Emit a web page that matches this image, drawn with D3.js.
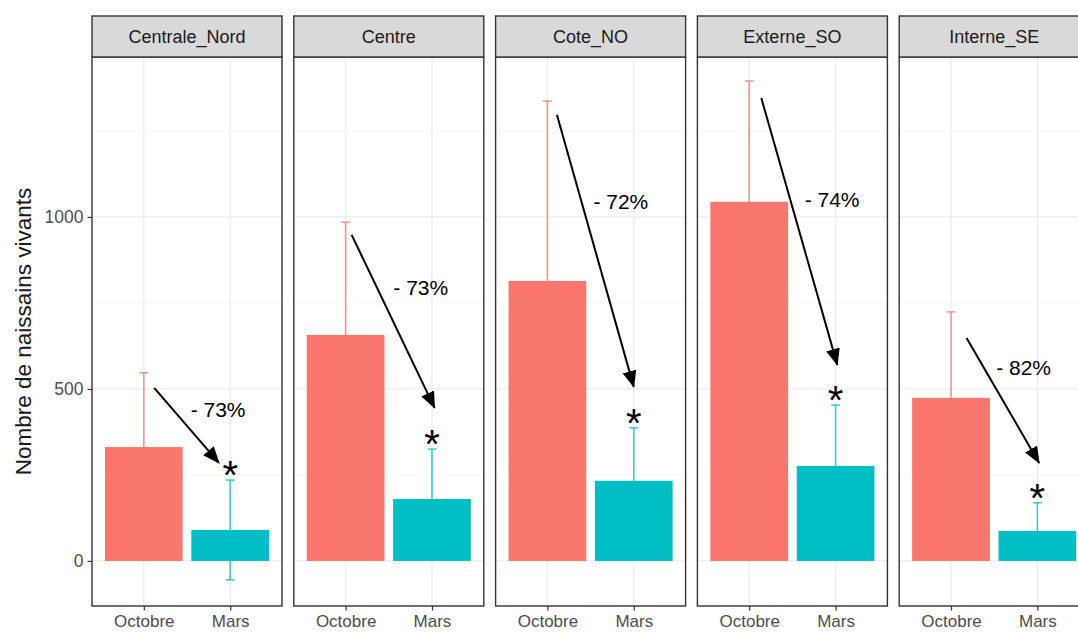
<!DOCTYPE html>
<html>
<head>
<meta charset="utf-8">
<script src="https://cdn.jsdelivr.net/npm/d3@7"></script>
<style>
  body { margin: 0; background: #fff; }
  text { font-family: "Liberation Sans", Arial, sans-serif; }
</style>
</head>
<body>
<div id="chart"></div>
<script>
// data
const regions = ["Centrale_Nord", "Centre", "Cote_NO", "Externe_SO", "Interne_SE"];
const months = ["Octobre", "Mars"];
const octobreMean = [331, 657, 814, 1044, 474];
const octobreSd = [216, 328, 523, 351, 250];
const marsMean = [90, 180, 233, 276, 87];
const marsSd = [145, 145, 154, 177, 82];
const pctLabels = ["- 73%", "- 73%", "- 72%", "- 74%", "- 82%"];
// arrows / labels in data units (x: 1 = Octobre, 2 = Mars)
const arrowX0 = [1.12, 1.07, 1.11, 1.14, 1.18];
const arrowY0 = [503, 948, 1297, 1346, 648];
const arrowX1 = [1.87, 2.03, 2.0, 2.02, 2.02];
const arrowY1 = [285, 445, 506, 570, 285];
const labelX = [1.86, 1.87, 1.85, 1.96, 1.84];
const labelY = [439, 794, 1044, 1049, 561];
const yTicks = [0, 500, 1000];
const yMinor = [250, 750, 1250];

const W = 1078, H = 633;
const colors = {Octobre: "#F8766D", Mars: "#00BFC4"};

const svg = d3.select("#chart").append("svg")
    .attr("width", W)
    .attr("height", H);

svg.append("defs").append("marker")
    .attr("id", "head")
    .attr("markerUnits", "userSpaceOnUse")
    .attr("viewBox", "0 0 17 14")
    .attr("refX", 16)
    .attr("refY", 7)
    .attr("markerWidth", 17)
    .attr("markerHeight", 14)
    .attr("orient", "auto")
    .append("path")
    .attr("d", "M0,0 L17,7 L0,14 Z")
    .attr("fill", "#000");

const plotTop = 57, plotBottom = 606, stripTop = 16;
const panelW = 190, panelStep = 201.8, firstLeft = 92;

const y = d3.scaleLinear().domain([-131, 1465]).range([plotBottom, plotTop]);

const data = regions.map((r, i) => ({
    region: r,
    bars: [
        {month: "Octobre", mean: octobreMean[i], sd: octobreSd[i]},
        {month: "Mars", mean: marsMean[i], sd: marsSd[i]}
    ],
    i: i
}));

data.forEach(d => {
    const left = firstLeft + d.i * panelStep;
    const x = d3.scaleLinear().domain([0.4, 2.6]).range([left, left + panelW]);
    const xm = m => x(months.indexOf(m) + 1);
    const g = svg.append("g");

    // panel background + grid
    g.append("rect")
        .attr("x", left).attr("y", plotTop)
        .attr("width", panelW).attr("height", plotBottom - plotTop)
        .attr("fill", "#fff");

    g.selectAll(".minor").data(yMinor).join("line")
        .attr("x1", left).attr("x2", left + panelW)
        .attr("y1", v => y(v)).attr("y2", v => y(v))
        .attr("stroke", "#F2F2F2").attr("stroke-width", 0.8);
    g.selectAll(".major").data(yTicks).join("line")
        .attr("x1", left).attr("x2", left + panelW)
        .attr("y1", v => y(v)).attr("y2", v => y(v))
        .attr("stroke", "#EBEBEB").attr("stroke-width", 1.3);
    g.selectAll(".vgrid").data(months).join("line")
        .attr("x1", m => xm(m)).attr("x2", m => xm(m))
        .attr("y1", plotTop).attr("y2", plotBottom)
        .attr("stroke", "#EBEBEB").attr("stroke-width", 1.3);

    // error bars (drawn under the bars)
    const eb = g.selectAll(".eb").data(d.bars).join("g");
    eb.append("line")
        .attr("x1", b => xm(b.month)).attr("x2", b => xm(b.month))
        .attr("y1", b => y(b.mean - b.sd)).attr("y2", b => y(b.mean + b.sd))
        .attr("stroke", b => colors[b.month]).attr("stroke-opacity", 0.75).attr("stroke-width", 1.6);
    ["top", "bottom"].forEach(side => {
        eb.append("line")
            .attr("x1", b => xm(b.month) - 4.5).attr("x2", b => xm(b.month) + 4.5)
            .attr("y1", b => y(side === "top" ? b.mean + b.sd : b.mean - b.sd))
            .attr("y2", b => y(side === "top" ? b.mean + b.sd : b.mean - b.sd))
            .attr("stroke", b => colors[b.month]).attr("stroke-opacity", 0.75).attr("stroke-width", 1.6);
    });

    // bars
    const bw = x(1.45) - x(1);
    g.selectAll(".bar").data(d.bars).join("rect")
        .attr("x", b => xm(b.month) - bw)
        .attr("width", bw * 2)
        .attr("y", b => y(b.mean))
        .attr("height", b => y(0) - y(b.mean))
        .attr("fill", b => colors[b.month]);

    // significance star above Mars error bar
    const mars = d.bars[1];
    g.append("text")
        .attr("x", xm("Mars"))
        .attr("y", y(mars.mean + mars.sd) - 13 + 22)
        .attr("text-anchor", "middle")
        .attr("font-size", 40)
        .attr("fill", "#000")
        .text("*");

    // arrow + percentage
    g.append("line")
        .attr("x1", x(arrowX0[d.i])).attr("y1", y(arrowY0[d.i]))
        .attr("x2", x(arrowX1[d.i])).attr("y2", y(arrowY1[d.i]))
        .attr("stroke", "#000").attr("stroke-width", 2)
        .attr("marker-end", "url(#head)");
    g.append("text")
        .attr("x", x(labelX[d.i]))
        .attr("y", y(labelY[d.i]))
        .attr("dy", "0.35em")
        .attr("text-anchor", "middle")
        .attr("font-size", 21)
        .attr("fill", "#000")
        .text(pctLabels[d.i]);

    // panel border
    g.append("rect")
        .attr("x", left).attr("y", plotTop)
        .attr("width", panelW).attr("height", plotBottom - plotTop)
        .attr("fill", "none").attr("stroke", "#333").attr("stroke-width", 1.4);

    // strip
    g.append("rect")
        .attr("x", left).attr("y", stripTop)
        .attr("width", panelW).attr("height", plotTop - stripTop)
        .attr("fill", "#D9D9D9").attr("stroke", "#333").attr("stroke-width", 1.4);
    g.append("text")
        .attr("x", left + panelW / 2)
        .attr("y", (stripTop + plotTop) / 2)
        .attr("dy", "0.35em")
        .attr("text-anchor", "middle")
        .attr("font-size", 18)
        .attr("fill", "#1A1A1A")
        .text(d.region);

    // x axis
    const xAxis = g.append("g")
        .attr("transform", `translate(0,${plotBottom})`)
        .call(d3.axisBottom(x).tickValues([1, 2]).tickFormat(v => months[v - 1]).tickSize(4.5).tickPadding(4));
    xAxis.select(".domain").remove();
    xAxis.selectAll("line").attr("stroke", "#333").attr("stroke-width", 1.2);
    xAxis.selectAll("text").attr("font-size", 17).attr("fill", "#4D4D4D")
        .attr("font-family", "Liberation Sans, Arial, sans-serif");

    if (d.i === 0) {
        const yAxis = g.append("g")
            .attr("transform", `translate(${left},0)`)
            .call(d3.axisLeft(y).tickValues(yTicks).tickFormat(d3.format("d")).tickSize(4.5).tickPadding(4));
        yAxis.select(".domain").remove();
        yAxis.selectAll("line").attr("stroke", "#333").attr("stroke-width", 1.2);
        yAxis.selectAll("text").attr("font-size", 17.5).attr("fill", "#4D4D4D")
            .attr("font-family", "Liberation Sans, Arial, sans-serif");
    }
});

// y axis title
svg.append("text")
    .attr("transform", `translate(23,${(plotTop + plotBottom) / 2}) rotate(-90)`)
    .attr("dy", "0.35em")
    .attr("text-anchor", "middle")
    .attr("font-size", 22.5)
    .attr("fill", "#1A1A1A")
    .text("Nombre de naissains vivants");
</script>
</body>
</html>
